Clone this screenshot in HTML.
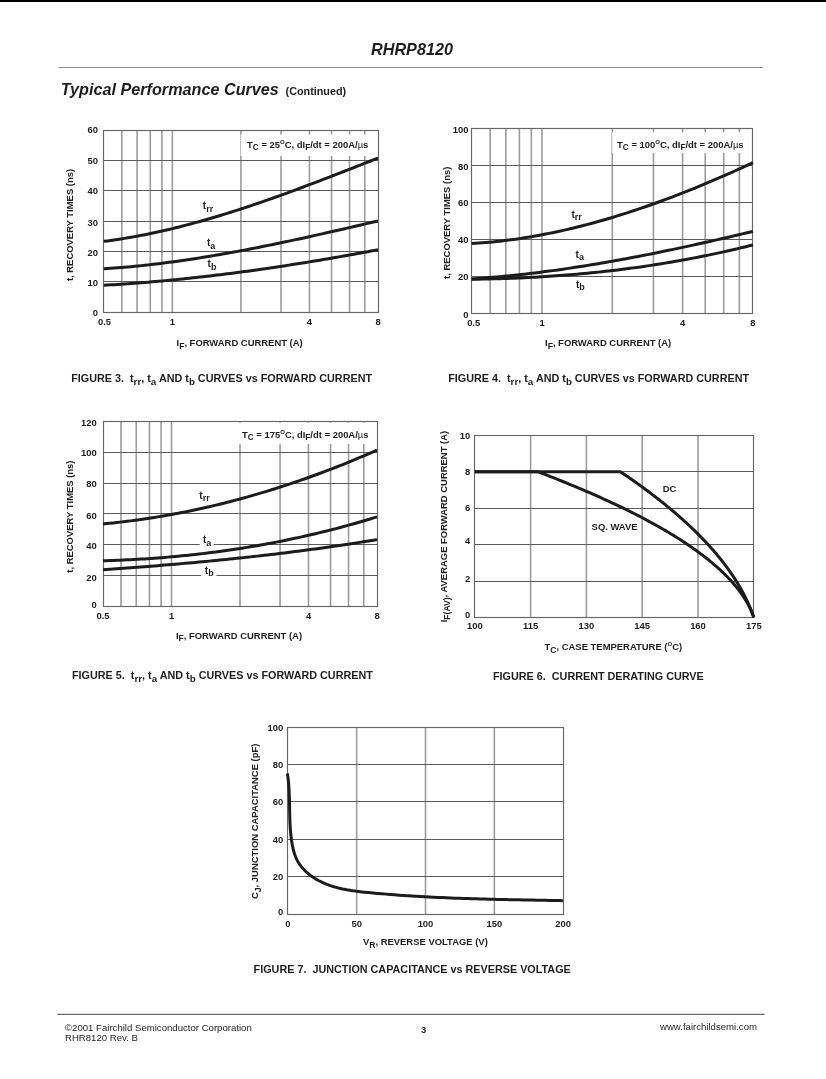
<!DOCTYPE html>
<html><head><meta charset="utf-8"><title>RHRP8120 - Typical Performance Curves</title>
<style>
html,body{margin:0;padding:0;background:#fff;}
body{width:826px;height:1079px;overflow:hidden;}
svg{display:block;will-change:transform;}
text{white-space:pre;font-family:"Liberation Sans",Arial,Helvetica,sans-serif;fill:#1e1e1e;}
</style></head>
<body>
<svg width="826" height="1079" viewBox="0 0 826 1079">
<rect width="826" height="1079" fill="#fff"/>
<rect x="0" y="0" width="826" height="2" fill="#000"/>
<text x="412.00" y="54.70" font-size="16.2" font-weight="bold" text-anchor="middle" font-style="italic">RHRP8120</text>
<line x1="58.50" y1="67.50" x2="763.00" y2="67.50" stroke="#8c8c8c" stroke-width="1.2"/>
<text x="60.80" y="94.90" font-size="16.2" font-weight="bold" text-anchor="start" font-style="italic">Typical Performance Curves</text>
<text x="285.60" y="94.90" font-size="10.8" font-weight="bold" text-anchor="start" >(Continued)</text>
<line x1="121.83" y1="130.20" x2="121.83" y2="312.30" stroke="#9c9c9c" stroke-width="1.6"/>
<line x1="137.08" y1="130.20" x2="137.08" y2="312.30" stroke="#9c9c9c" stroke-width="1.6"/>
<line x1="150.28" y1="130.20" x2="150.28" y2="312.30" stroke="#9c9c9c" stroke-width="1.6"/>
<line x1="161.93" y1="130.20" x2="161.93" y2="312.30" stroke="#9c9c9c" stroke-width="1.6"/>
<line x1="172.35" y1="130.20" x2="172.35" y2="312.30" stroke="#9c9c9c" stroke-width="1.6"/>
<line x1="240.90" y1="130.20" x2="240.90" y2="312.30" stroke="#9c9c9c" stroke-width="1.6"/>
<line x1="281.00" y1="130.20" x2="281.00" y2="312.30" stroke="#9c9c9c" stroke-width="1.6"/>
<line x1="309.45" y1="130.20" x2="309.45" y2="312.30" stroke="#9c9c9c" stroke-width="1.6"/>
<line x1="331.52" y1="130.20" x2="331.52" y2="312.30" stroke="#9c9c9c" stroke-width="1.6"/>
<line x1="349.55" y1="130.20" x2="349.55" y2="312.30" stroke="#9c9c9c" stroke-width="1.6"/>
<line x1="364.79" y1="130.20" x2="364.79" y2="312.30" stroke="#9c9c9c" stroke-width="1.6"/>
<line x1="103.80" y1="281.50" x2="378.00" y2="281.50" stroke="#5a5a5a" stroke-width="1.05"/>
<line x1="103.80" y1="251.50" x2="378.00" y2="251.50" stroke="#5a5a5a" stroke-width="1.05"/>
<line x1="103.80" y1="221.50" x2="378.00" y2="221.50" stroke="#5a5a5a" stroke-width="1.05"/>
<line x1="103.80" y1="190.50" x2="378.00" y2="190.50" stroke="#5a5a5a" stroke-width="1.05"/>
<line x1="103.80" y1="160.50" x2="378.00" y2="160.50" stroke="#5a5a5a" stroke-width="1.05"/>
<rect x="240.7" y="134.5" width="137.3" height="21.5" fill="#fff"/>
<rect x="103.5" y="130.5" width="275.0" height="182.0" fill="none" stroke="#666" stroke-width="1.15"/>
<path d="M103.80,241.33 L107.23,240.89 L110.65,240.43 L114.08,239.95 L117.51,239.45 L120.94,238.92 L124.36,238.38 L127.79,237.81 L131.22,237.22 L134.65,236.61 L138.07,235.98 L141.50,235.33 L144.93,234.66 L148.36,233.97 L151.78,233.26 L155.21,232.53 L158.64,231.79 L162.07,231.02 L165.50,230.24 L168.92,229.44 L172.35,228.62 L175.78,227.78 L179.20,226.93 L182.63,226.06 L186.06,225.17 L189.49,224.27 L192.91,223.35 L196.34,222.41 L199.77,221.46 L203.20,220.50 L206.62,219.52 L210.05,218.52 L213.48,217.52 L216.91,216.49 L220.34,215.46 L223.76,214.41 L227.19,213.35 L230.62,212.27 L234.05,211.18 L237.47,210.08 L240.90,208.97 L244.33,207.85 L247.75,206.71 L251.18,205.57 L254.61,204.41 L258.04,203.24 L261.47,202.07 L264.89,200.88 L268.32,199.68 L271.75,198.48 L275.18,197.26 L278.60,196.04 L282.03,194.81 L285.46,193.57 L288.88,192.32 L292.31,191.06 L295.74,189.80 L299.17,188.53 L302.60,187.25 L306.02,185.97 L309.45,184.68 L312.88,183.38 L316.31,182.08 L319.73,180.78 L323.16,179.47 L326.59,178.15 L330.01,176.83 L333.44,175.50 L336.87,174.18 L340.30,172.84 L343.72,171.51 L347.15,170.17 L350.58,168.83 L354.01,167.48 L357.44,166.14 L360.86,164.79 L364.29,163.44 L367.72,162.09 L371.15,160.74 L374.57,159.39 L378.00,158.03" stroke="#1c1c1c" stroke-width="3" fill="none" stroke-linejoin="round" stroke-linecap="butt"/>
<path d="M103.80,268.84 L107.23,268.61 L110.65,268.37 L114.08,268.11 L117.51,267.85 L120.94,267.57 L124.36,267.27 L127.79,266.97 L131.22,266.65 L134.65,266.31 L138.07,265.97 L141.50,265.62 L144.93,265.25 L148.36,264.87 L151.78,264.48 L155.21,264.07 L158.64,263.66 L162.07,263.24 L165.50,262.80 L168.92,262.35 L172.35,261.89 L175.78,261.43 L179.20,260.95 L182.63,260.46 L186.06,259.96 L189.49,259.45 L192.91,258.93 L196.34,258.40 L199.77,257.87 L203.20,257.32 L206.62,256.76 L210.05,256.20 L213.48,255.63 L216.91,255.04 L220.34,254.45 L223.76,253.85 L227.19,253.25 L230.62,252.63 L234.05,252.01 L237.47,251.38 L240.90,250.74 L244.33,250.10 L247.75,249.44 L251.18,248.79 L254.61,248.12 L258.04,247.45 L261.47,246.77 L264.89,246.08 L268.32,245.39 L271.75,244.69 L275.18,243.99 L278.60,243.28 L282.03,242.56 L285.46,241.84 L288.88,241.12 L292.31,240.39 L295.74,239.65 L299.17,238.91 L302.60,238.16 L306.02,237.41 L309.45,236.66 L312.88,235.90 L316.31,235.14 L319.73,234.37 L323.16,233.60 L326.59,232.83 L330.01,232.05 L333.44,231.28 L336.87,230.49 L340.30,229.71 L343.72,228.92 L347.15,228.13 L350.58,227.34 L354.01,226.54 L357.44,225.74 L360.86,224.94 L364.29,224.14 L367.72,223.34 L371.15,222.54 L374.57,221.73 L378.00,220.93" stroke="#1c1c1c" stroke-width="3" fill="none" stroke-linejoin="round" stroke-linecap="butt"/>
<path d="M103.80,285.25 L107.23,285.05 L110.65,284.85 L114.08,284.64 L117.51,284.42 L120.94,284.20 L124.36,283.97 L127.79,283.73 L131.22,283.48 L134.65,283.23 L138.07,282.97 L141.50,282.70 L144.93,282.42 L148.36,282.14 L151.78,281.85 L155.21,281.56 L158.64,281.25 L162.07,280.95 L165.50,280.63 L168.92,280.31 L172.35,279.98 L175.78,279.64 L179.20,279.30 L182.63,278.95 L186.06,278.59 L189.49,278.23 L192.91,277.86 L196.34,277.49 L199.77,277.11 L203.20,276.72 L206.62,276.33 L210.05,275.93 L213.48,275.52 L216.91,275.11 L220.34,274.69 L223.76,274.27 L227.19,273.84 L230.62,273.40 L234.05,272.96 L237.47,272.51 L240.90,272.06 L244.33,271.60 L247.75,271.14 L251.18,270.67 L254.61,270.19 L258.04,269.71 L261.47,269.22 L264.89,268.73 L268.32,268.23 L271.75,267.73 L275.18,267.22 L278.60,266.71 L282.03,266.19 L285.46,265.66 L288.88,265.14 L292.31,264.60 L295.74,264.06 L299.17,263.52 L302.60,262.97 L306.02,262.42 L309.45,261.86 L312.88,261.29 L316.31,260.72 L319.73,260.15 L323.16,259.57 L326.59,258.99 L330.01,258.40 L333.44,257.81 L336.87,257.22 L340.30,256.62 L343.72,256.01 L347.15,255.40 L350.58,254.79 L354.01,254.17 L357.44,253.55 L360.86,252.92 L364.29,252.29 L367.72,251.66 L371.15,251.02 L374.57,250.38 L378.00,249.73" stroke="#1c1c1c" stroke-width="3" fill="none" stroke-linejoin="round" stroke-linecap="butt"/>
<text x="98.10" y="132.60" font-size="9.45" font-weight="bold" text-anchor="end" >60</text>
<text x="98.10" y="163.50" font-size="9.45" font-weight="bold" text-anchor="end" >50</text>
<text x="98.10" y="194.10" font-size="9.45" font-weight="bold" text-anchor="end" >40</text>
<text x="98.10" y="225.70" font-size="9.45" font-weight="bold" text-anchor="end" >30</text>
<text x="98.10" y="255.90" font-size="9.45" font-weight="bold" text-anchor="end" >20</text>
<text x="98.10" y="285.80" font-size="9.45" font-weight="bold" text-anchor="end" >10</text>
<text x="98.10" y="315.70" font-size="9.45" font-weight="bold" text-anchor="end" >0</text>
<text x="104.50" y="324.60" font-size="9.45" font-weight="bold" text-anchor="middle" >0.5</text>
<text x="172.35" y="324.60" font-size="9.45" font-weight="bold" text-anchor="middle" >1</text>
<text x="309.45" y="324.60" font-size="9.45" font-weight="bold" text-anchor="middle" >4</text>
<text x="378.00" y="324.60" font-size="9.45" font-weight="bold" text-anchor="middle" >8</text>
<text x="247.1" y="147.8" font-size="9.45" font-weight="bold">T<tspan dy="2.2" font-size="8.2">C</tspan><tspan dy="-2.2"> = 25</tspan><tspan dy="-4" font-size="6">O</tspan><tspan dy="4">C, dI</tspan><tspan dy="2.2" font-size="8.2">F</tspan><tspan dy="-2.2">/dt = 200A/</tspan><tspan font-weight="normal">µ</tspan><tspan>s</tspan></text>
<text x="202.80" y="209.40" font-size="10" font-weight="bold">t<tspan dy="2.4" font-size="9">rr</tspan></text>
<text x="206.90" y="246.10" font-size="10" font-weight="bold">t<tspan dy="2.4" font-size="9">a</tspan></text>
<text x="207.60" y="267.20" font-size="10" font-weight="bold">t<tspan dy="2.4" font-size="9">b</tspan></text>
<line x1="490.19" y1="128.40" x2="490.19" y2="313.40" stroke="#9c9c9c" stroke-width="1.6"/>
<line x1="505.83" y1="128.40" x2="505.83" y2="313.40" stroke="#9c9c9c" stroke-width="1.6"/>
<line x1="519.37" y1="128.40" x2="519.37" y2="313.40" stroke="#9c9c9c" stroke-width="1.6"/>
<line x1="531.31" y1="128.40" x2="531.31" y2="313.40" stroke="#9c9c9c" stroke-width="1.6"/>
<line x1="542.00" y1="128.40" x2="542.00" y2="313.40" stroke="#9c9c9c" stroke-width="1.6"/>
<line x1="612.30" y1="128.40" x2="612.30" y2="313.40" stroke="#9c9c9c" stroke-width="1.6"/>
<line x1="653.42" y1="128.40" x2="653.42" y2="313.40" stroke="#9c9c9c" stroke-width="1.6"/>
<line x1="682.60" y1="128.40" x2="682.60" y2="313.40" stroke="#9c9c9c" stroke-width="1.6"/>
<line x1="705.23" y1="128.40" x2="705.23" y2="313.40" stroke="#9c9c9c" stroke-width="1.6"/>
<line x1="723.72" y1="128.40" x2="723.72" y2="313.40" stroke="#9c9c9c" stroke-width="1.6"/>
<line x1="739.36" y1="128.40" x2="739.36" y2="313.40" stroke="#9c9c9c" stroke-width="1.6"/>
<line x1="471.70" y1="276.50" x2="752.90" y2="276.50" stroke="#5a5a5a" stroke-width="1.05"/>
<line x1="471.70" y1="239.50" x2="752.90" y2="239.50" stroke="#5a5a5a" stroke-width="1.05"/>
<line x1="471.70" y1="202.50" x2="752.90" y2="202.50" stroke="#5a5a5a" stroke-width="1.05"/>
<line x1="471.70" y1="165.50" x2="752.90" y2="165.50" stroke="#5a5a5a" stroke-width="1.05"/>
<rect x="612.3" y="132.3" width="140.60000000000002" height="20.69999999999999" fill="#fff"/>
<rect x="471.5" y="128.5" width="281.0" height="185.0" fill="none" stroke="#666" stroke-width="1.15"/>
<path d="M471.70,243.58 L475.21,243.36 L478.73,243.12 L482.25,242.85 L485.76,242.56 L489.27,242.25 L492.79,241.91 L496.31,241.55 L499.82,241.16 L503.33,240.75 L506.85,240.32 L510.37,239.86 L513.88,239.39 L517.39,238.89 L520.91,238.36 L524.42,237.82 L527.94,237.25 L531.46,236.66 L534.97,236.05 L538.49,235.42 L542.00,234.76 L545.51,234.09 L549.03,233.39 L552.54,232.67 L556.06,231.94 L559.58,231.18 L563.09,230.40 L566.61,229.60 L570.12,228.78 L573.63,227.94 L577.15,227.08 L580.66,226.20 L584.18,225.30 L587.69,224.39 L591.21,223.45 L594.73,222.49 L598.24,221.52 L601.75,220.53 L605.27,219.52 L608.78,218.49 L612.30,217.44 L615.82,216.37 L619.33,215.29 L622.85,214.19 L626.36,213.07 L629.88,211.94 L633.39,210.79 L636.90,209.62 L640.42,208.43 L643.93,207.23 L647.45,206.01 L650.97,204.78 L654.48,203.53 L658.00,202.26 L661.51,200.98 L665.02,199.68 L668.54,198.37 L672.05,197.04 L675.57,195.70 L679.09,194.34 L682.60,192.97 L686.12,191.59 L689.63,190.18 L693.14,188.77 L696.66,187.34 L700.17,185.90 L703.69,184.44 L707.20,182.97 L710.72,181.49 L714.24,179.99 L717.75,178.48 L721.26,176.96 L724.78,175.43 L728.30,173.88 L731.81,172.32 L735.33,170.75 L738.84,169.17 L742.36,167.57 L745.87,165.97 L749.38,164.35 L752.90,162.72" stroke="#1c1c1c" stroke-width="3" fill="none" stroke-linejoin="round" stroke-linecap="butt"/>
<path d="M471.70,278.93 L475.21,278.69 L478.73,278.44 L482.25,278.18 L485.76,277.90 L489.27,277.62 L492.79,277.32 L496.31,277.01 L499.82,276.69 L503.33,276.36 L506.85,276.02 L510.37,275.67 L513.88,275.31 L517.39,274.93 L520.91,274.55 L524.42,274.15 L527.94,273.75 L531.46,273.33 L534.97,272.91 L538.49,272.47 L542.00,272.03 L545.51,271.57 L549.03,271.11 L552.54,270.63 L556.06,270.15 L559.58,269.65 L563.09,269.15 L566.61,268.64 L570.12,268.12 L573.63,267.59 L577.15,267.05 L580.66,266.51 L584.18,265.95 L587.69,265.39 L591.21,264.81 L594.73,264.23 L598.24,263.65 L601.75,263.05 L605.27,262.45 L608.78,261.83 L612.30,261.21 L615.82,260.59 L619.33,259.95 L622.85,259.31 L626.36,258.66 L629.88,258.00 L633.39,257.34 L636.90,256.67 L640.42,255.99 L643.93,255.31 L647.45,254.62 L650.97,253.92 L654.48,253.22 L658.00,252.51 L661.51,251.79 L665.02,251.07 L668.54,250.34 L672.05,249.61 L675.57,248.87 L679.09,248.13 L682.60,247.38 L686.12,246.62 L689.63,245.86 L693.14,245.10 L696.66,244.32 L700.17,243.55 L703.69,242.77 L707.20,241.98 L710.72,241.19 L714.24,240.40 L717.75,239.60 L721.26,238.80 L724.78,237.99 L728.30,237.18 L731.81,236.37 L735.33,235.55 L738.84,234.72 L742.36,233.90 L745.87,233.07 L749.38,232.24 L752.90,231.40" stroke="#1c1c1c" stroke-width="3" fill="none" stroke-linejoin="round" stroke-linecap="butt"/>
<path d="M471.70,279.21 L475.21,279.17 L478.73,279.13 L482.25,279.07 L485.76,279.00 L489.27,278.93 L492.79,278.85 L496.31,278.76 L499.82,278.66 L503.33,278.55 L506.85,278.43 L510.37,278.31 L513.88,278.17 L517.39,278.03 L520.91,277.88 L524.42,277.72 L527.94,277.55 L531.46,277.37 L534.97,277.18 L538.49,276.98 L542.00,276.77 L545.51,276.55 L549.03,276.33 L552.54,276.09 L556.06,275.84 L559.58,275.59 L563.09,275.32 L566.61,275.05 L570.12,274.76 L573.63,274.47 L577.15,274.16 L580.66,273.85 L584.18,273.52 L587.69,273.19 L591.21,272.84 L594.73,272.49 L598.24,272.12 L601.75,271.75 L605.27,271.36 L608.78,270.96 L612.30,270.55 L615.82,270.14 L619.33,269.71 L622.85,269.27 L626.36,268.82 L629.88,268.36 L633.39,267.88 L636.90,267.40 L640.42,266.91 L643.93,266.40 L647.45,265.88 L650.97,265.36 L654.48,264.82 L658.00,264.27 L661.51,263.71 L665.02,263.13 L668.54,262.55 L672.05,261.95 L675.57,261.35 L679.09,260.73 L682.60,260.10 L686.12,259.45 L689.63,258.80 L693.14,258.13 L696.66,257.45 L700.17,256.76 L703.69,256.06 L707.20,255.35 L710.72,254.62 L714.24,253.88 L717.75,253.13 L721.26,252.37 L724.78,251.59 L728.30,250.80 L731.81,250.00 L735.33,249.19 L738.84,248.36 L742.36,247.52 L745.87,246.67 L749.38,245.80 L752.90,244.93" stroke="#1c1c1c" stroke-width="3" fill="none" stroke-linejoin="round" stroke-linecap="butt"/>
<text x="468.50" y="132.70" font-size="9.45" font-weight="bold" text-anchor="end" >100</text>
<text x="468.50" y="169.70" font-size="9.45" font-weight="bold" text-anchor="end" >80</text>
<text x="468.50" y="205.80" font-size="9.45" font-weight="bold" text-anchor="end" >60</text>
<text x="468.50" y="242.60" font-size="9.45" font-weight="bold" text-anchor="end" >40</text>
<text x="468.50" y="280.10" font-size="9.45" font-weight="bold" text-anchor="end" >20</text>
<text x="468.50" y="317.60" font-size="9.45" font-weight="bold" text-anchor="end" >0</text>
<text x="473.70" y="325.80" font-size="9.45" font-weight="bold" text-anchor="middle" >0.5</text>
<text x="542.00" y="325.80" font-size="9.45" font-weight="bold" text-anchor="middle" >1</text>
<text x="682.60" y="325.80" font-size="9.45" font-weight="bold" text-anchor="middle" >4</text>
<text x="752.90" y="325.80" font-size="9.45" font-weight="bold" text-anchor="middle" >8</text>
<text x="617.1" y="147.8" font-size="9.45" font-weight="bold">T<tspan dy="2.2" font-size="8.2">C</tspan><tspan dy="-2.2"> = 100</tspan><tspan dy="-4" font-size="6">O</tspan><tspan dy="4">C, dI</tspan><tspan dy="2.2" font-size="8.2">F</tspan><tspan dy="-2.2">/dt = 200A/</tspan><tspan font-weight="normal">µ</tspan><tspan>s</tspan></text>
<text x="571.50" y="217.90" font-size="10" font-weight="bold">t<tspan dy="2.4" font-size="9">rr</tspan></text>
<text x="575.60" y="257.50" font-size="10" font-weight="bold">t<tspan dy="2.4" font-size="9">a</tspan></text>
<text x="576.00" y="288.00" font-size="10" font-weight="bold">t<tspan dy="2.4" font-size="9">b</tspan></text>
<line x1="121.02" y1="421.30" x2="121.02" y2="606.50" stroke="#9c9c9c" stroke-width="1.6"/>
<line x1="136.25" y1="421.30" x2="136.25" y2="606.50" stroke="#9c9c9c" stroke-width="1.6"/>
<line x1="149.45" y1="421.30" x2="149.45" y2="606.50" stroke="#9c9c9c" stroke-width="1.6"/>
<line x1="161.09" y1="421.30" x2="161.09" y2="606.50" stroke="#9c9c9c" stroke-width="1.6"/>
<line x1="171.50" y1="421.30" x2="171.50" y2="606.50" stroke="#9c9c9c" stroke-width="1.6"/>
<line x1="240.00" y1="421.30" x2="240.00" y2="606.50" stroke="#9c9c9c" stroke-width="1.6"/>
<line x1="280.07" y1="421.30" x2="280.07" y2="606.50" stroke="#9c9c9c" stroke-width="1.6"/>
<line x1="308.50" y1="421.30" x2="308.50" y2="606.50" stroke="#9c9c9c" stroke-width="1.6"/>
<line x1="330.55" y1="421.30" x2="330.55" y2="606.50" stroke="#9c9c9c" stroke-width="1.6"/>
<line x1="348.57" y1="421.30" x2="348.57" y2="606.50" stroke="#9c9c9c" stroke-width="1.6"/>
<line x1="363.80" y1="421.30" x2="363.80" y2="606.50" stroke="#9c9c9c" stroke-width="1.6"/>
<line x1="103.00" y1="575.50" x2="377.00" y2="575.50" stroke="#5a5a5a" stroke-width="1.05"/>
<line x1="103.00" y1="544.50" x2="377.00" y2="544.50" stroke="#5a5a5a" stroke-width="1.05"/>
<line x1="103.00" y1="513.50" x2="377.00" y2="513.50" stroke="#5a5a5a" stroke-width="1.05"/>
<line x1="103.00" y1="483.50" x2="377.00" y2="483.50" stroke="#5a5a5a" stroke-width="1.05"/>
<line x1="103.00" y1="452.50" x2="377.00" y2="452.50" stroke="#5a5a5a" stroke-width="1.05"/>
<rect x="236" y="422.7" width="141" height="21.30000000000001" fill="#fff"/>
<rect x="103.5" y="421.5" width="274.0" height="185.0" fill="none" stroke="#666" stroke-width="1.15"/>
<path d="M103.00,523.92 L106.43,523.59 L109.85,523.25 L113.28,522.89 L116.70,522.52 L120.12,522.13 L123.55,521.73 L126.98,521.31 L130.40,520.88 L133.82,520.43 L137.25,519.96 L140.68,519.48 L144.10,518.99 L147.53,518.48 L150.95,517.95 L154.38,517.41 L157.80,516.86 L161.23,516.29 L164.65,515.70 L168.07,515.10 L171.50,514.48 L174.93,513.85 L178.35,513.21 L181.78,512.54 L185.20,511.87 L188.62,511.17 L192.05,510.47 L195.48,509.75 L198.90,509.01 L202.33,508.26 L205.75,507.49 L209.18,506.71 L212.60,505.91 L216.03,505.09 L219.45,504.27 L222.88,503.42 L226.30,502.57 L229.73,501.69 L233.15,500.81 L236.58,499.90 L240.00,498.98 L243.43,498.05 L246.85,497.10 L250.28,496.14 L253.70,495.16 L257.12,494.17 L260.55,493.16 L263.98,492.14 L267.40,491.10 L270.83,490.05 L274.25,488.98 L277.68,487.90 L281.10,486.80 L284.53,485.69 L287.95,484.57 L291.38,483.42 L294.80,482.27 L298.23,481.10 L301.65,479.91 L305.08,478.71 L308.50,477.49 L311.93,476.26 L315.35,475.02 L318.78,473.76 L322.20,472.48 L325.62,471.19 L329.05,469.89 L332.48,468.57 L335.90,467.24 L339.33,465.89 L342.75,464.52 L346.18,463.15 L349.60,461.75 L353.03,460.35 L356.45,458.92 L359.88,457.49 L363.30,456.04 L366.73,454.57 L370.15,453.09 L373.57,451.59 L377.00,450.08" stroke="#1c1c1c" stroke-width="3" fill="none" stroke-linejoin="round" stroke-linecap="butt"/>
<path d="M103.00,560.79 L106.43,560.68 L109.85,560.57 L113.28,560.45 L116.70,560.32 L120.12,560.18 L123.55,560.03 L126.98,559.87 L130.40,559.70 L133.82,559.51 L137.25,559.32 L140.68,559.12 L144.10,558.91 L147.53,558.68 L150.95,558.45 L154.38,558.20 L157.80,557.95 L161.23,557.68 L164.65,557.40 L168.07,557.12 L171.50,556.82 L174.93,556.51 L178.35,556.19 L181.78,555.85 L185.20,555.51 L188.62,555.16 L192.05,554.79 L195.48,554.42 L198.90,554.03 L202.33,553.63 L205.75,553.22 L209.18,552.80 L212.60,552.36 L216.03,551.92 L219.45,551.46 L222.88,550.99 L226.30,550.51 L229.73,550.02 L233.15,549.51 L236.58,549.00 L240.00,548.47 L243.43,547.93 L246.85,547.38 L250.28,546.81 L253.70,546.24 L257.12,545.65 L260.55,545.05 L263.98,544.43 L267.40,543.81 L270.83,543.17 L274.25,542.52 L277.68,541.85 L281.10,541.18 L284.53,540.49 L287.95,539.79 L291.38,539.07 L294.80,538.34 L298.23,537.60 L301.65,536.85 L305.08,536.08 L308.50,535.30 L311.93,534.51 L315.35,533.70 L318.78,532.89 L322.20,532.05 L325.62,531.21 L329.05,530.35 L332.48,529.47 L335.90,528.59 L339.33,527.69 L342.75,526.77 L346.18,525.85 L349.60,524.91 L353.03,523.95 L356.45,522.98 L359.88,522.00 L363.30,521.00 L366.73,519.99 L370.15,518.97 L373.57,517.93 L377.00,516.88" stroke="#1c1c1c" stroke-width="3" fill="none" stroke-linejoin="round" stroke-linecap="butt"/>
<path d="M103.00,569.72 L106.43,569.48 L109.85,569.25 L113.28,569.01 L116.70,568.76 L120.12,568.52 L123.55,568.27 L126.98,568.02 L130.40,567.77 L133.82,567.52 L137.25,567.26 L140.68,567.00 L144.10,566.74 L147.53,566.47 L150.95,566.20 L154.38,565.93 L157.80,565.65 L161.23,565.37 L164.65,565.09 L168.07,564.80 L171.50,564.52 L174.93,564.22 L178.35,563.93 L181.78,563.63 L185.20,563.33 L188.62,563.02 L192.05,562.71 L195.48,562.40 L198.90,562.09 L202.33,561.77 L205.75,561.44 L209.18,561.12 L212.60,560.79 L216.03,560.45 L219.45,560.11 L222.88,559.77 L226.30,559.42 L229.73,559.07 L233.15,558.72 L236.58,558.36 L240.00,558.00 L243.43,557.63 L246.85,557.26 L250.28,556.88 L253.70,556.50 L257.12,556.12 L260.55,555.73 L263.98,555.34 L267.40,554.94 L270.83,554.54 L274.25,554.14 L277.68,553.73 L281.10,553.31 L284.53,552.89 L287.95,552.47 L291.38,552.04 L294.80,551.60 L298.23,551.16 L301.65,550.72 L305.08,550.27 L308.50,549.82 L311.93,549.36 L315.35,548.89 L318.78,548.43 L322.20,547.95 L325.62,547.47 L329.05,546.99 L332.48,546.50 L335.90,546.00 L339.33,545.50 L342.75,545.00 L346.18,544.49 L349.60,543.97 L353.03,543.45 L356.45,542.92 L359.88,542.39 L363.30,541.85 L366.73,541.30 L370.15,540.75 L373.57,540.20 L377.00,539.63" stroke="#1c1c1c" stroke-width="3" fill="none" stroke-linejoin="round" stroke-linecap="butt"/>
<text x="96.70" y="425.70" font-size="9.45" font-weight="bold" text-anchor="end" >120</text>
<text x="96.70" y="455.90" font-size="9.45" font-weight="bold" text-anchor="end" >100</text>
<text x="96.70" y="487.00" font-size="9.45" font-weight="bold" text-anchor="end" >80</text>
<text x="96.70" y="518.60" font-size="9.45" font-weight="bold" text-anchor="end" >60</text>
<text x="96.70" y="549.20" font-size="9.45" font-weight="bold" text-anchor="end" >40</text>
<text x="96.70" y="580.80" font-size="9.45" font-weight="bold" text-anchor="end" >20</text>
<text x="96.70" y="607.90" font-size="9.45" font-weight="bold" text-anchor="end" >0</text>
<text x="103.00" y="619.10" font-size="9.45" font-weight="bold" text-anchor="middle" >0.5</text>
<text x="171.50" y="619.10" font-size="9.45" font-weight="bold" text-anchor="middle" >1</text>
<text x="308.50" y="619.10" font-size="9.45" font-weight="bold" text-anchor="middle" >4</text>
<text x="377.00" y="619.10" font-size="9.45" font-weight="bold" text-anchor="middle" >8</text>
<text x="242" y="437.8" font-size="9.45" font-weight="bold">T<tspan dy="2.2" font-size="8.2">C</tspan><tspan dy="-2.2"> = 175</tspan><tspan dy="-4" font-size="6">O</tspan><tspan dy="4">C, dI</tspan><tspan dy="2.2" font-size="8.2">F</tspan><tspan dy="-2.2">/dt = 200A/</tspan><tspan font-weight="normal">µ</tspan><tspan>s</tspan></text>
<rect x="199.7" y="542" width="13.9" height="6" fill="#fff"/>
<rect x="201.1" y="573" width="15.3" height="6" fill="#fff"/>
<text x="199.30" y="498.90" font-size="10" font-weight="bold">t<tspan dy="2.4" font-size="9">rr</tspan></text>
<text x="203.00" y="543.20" font-size="10" font-weight="bold">t<tspan dy="2.4" font-size="9">a</tspan></text>
<text x="204.80" y="573.50" font-size="10" font-weight="bold">t<tspan dy="2.4" font-size="9">b</tspan></text>
<line x1="530.60" y1="435.20" x2="530.60" y2="617.50" stroke="#9c9c9c" stroke-width="1.6"/>
<line x1="586.40" y1="435.20" x2="586.40" y2="617.50" stroke="#9c9c9c" stroke-width="1.6"/>
<line x1="642.20" y1="435.20" x2="642.20" y2="617.50" stroke="#9c9c9c" stroke-width="1.6"/>
<line x1="698.00" y1="435.20" x2="698.00" y2="617.50" stroke="#9c9c9c" stroke-width="1.6"/>
<line x1="474.80" y1="581.50" x2="753.80" y2="581.50" stroke="#5a5a5a" stroke-width="1.05"/>
<line x1="474.80" y1="544.50" x2="753.80" y2="544.50" stroke="#5a5a5a" stroke-width="1.05"/>
<line x1="474.80" y1="508.50" x2="753.80" y2="508.50" stroke="#5a5a5a" stroke-width="1.05"/>
<line x1="474.80" y1="471.50" x2="753.80" y2="471.50" stroke="#5a5a5a" stroke-width="1.05"/>
<rect x="474.5" y="435.5" width="279.0" height="182.0" fill="none" stroke="#666" stroke-width="1.15"/>
<path d="M474.80,471.66 L620.20,471.66 L622.64,473.30 L625.06,474.94 L627.45,476.58 L629.82,478.21 L632.18,479.85 L634.51,481.49 L636.82,483.13 L639.11,484.77 L641.37,486.41 L643.62,488.05 L645.85,489.69 L648.05,491.32 L650.23,492.96 L652.39,494.60 L654.53,496.24 L656.65,497.88 L658.75,499.52 L660.82,501.16 L662.88,502.79 L664.91,504.43 L666.92,506.07 L668.91,507.71 L670.88,509.35 L672.83,510.99 L674.76,512.63 L676.66,514.26 L678.55,515.90 L680.41,517.54 L682.25,519.18 L684.07,520.82 L685.87,522.46 L687.65,524.10 L689.41,525.74 L691.14,527.37 L692.86,529.01 L694.55,530.65 L696.22,532.29 L697.87,533.93 L699.50,535.57 L701.11,537.21 L702.69,538.84 L704.26,540.48 L705.80,542.12 L707.32,543.76 L708.82,545.40 L710.30,547.04 L711.76,548.68 L713.20,550.32 L714.62,551.95 L716.01,553.59 L717.38,555.23 L718.74,556.87 L720.07,558.51 L721.38,560.15 L722.66,561.79 L723.93,563.42 L725.18,565.06 L726.40,566.70 L727.61,568.34 L728.79,569.98 L729.95,571.62 L731.09,573.26 L732.20,574.90 L733.30,576.53 L734.38,578.17 L735.43,579.81 L736.46,581.45 L737.48,583.09 L738.47,584.73 L739.43,586.37 L740.38,588.00 L741.31,589.64 L742.21,591.28 L743.10,592.92 L743.96,594.56 L744.80,596.20 L745.62,597.84 L746.42,599.47 L747.20,601.11 L747.95,602.75 L748.69,604.39 L749.40,606.03 L750.09,607.67 L750.76,609.31 L751.41,610.95 L752.04,612.58 L752.65,614.22 L753.24,615.86 L753.80,617.50" stroke="#1c1c1c" stroke-width="3" fill="none" stroke-linejoin="round" stroke-linecap="butt"/>
<path d="M474.80,471.66 L537.72,471.66 L542.01,473.30 L546.25,474.94 L550.46,476.58 L554.62,478.21 L558.75,479.85 L562.83,481.49 L566.86,483.13 L570.86,484.77 L574.81,486.41 L578.72,488.05 L582.59,489.69 L586.41,491.32 L590.19,492.96 L593.93,494.60 L597.63,496.24 L601.29,497.88 L604.90,499.52 L608.47,501.16 L612.00,502.79 L615.49,504.43 L618.93,506.07 L622.33,507.71 L625.69,509.35 L629.01,510.99 L632.28,512.63 L635.52,514.26 L638.71,515.90 L641.85,517.54 L644.96,519.18 L648.02,520.82 L651.04,522.46 L654.02,524.10 L656.96,525.74 L659.85,527.37 L662.70,529.01 L665.51,530.65 L668.28,532.29 L671.00,533.93 L673.68,535.57 L676.32,537.21 L678.92,538.84 L681.48,540.48 L683.99,542.12 L686.46,543.76 L688.89,545.40 L691.27,547.04 L693.62,548.68 L695.92,550.32 L698.17,551.95 L700.39,553.59 L702.56,555.23 L704.70,556.87 L706.79,558.51 L708.83,560.15 L710.84,561.79 L712.80,563.42 L714.72,565.06 L716.60,566.70 L718.43,568.34 L720.22,569.98 L721.98,571.62 L723.68,573.26 L725.35,574.90 L726.97,576.53 L728.55,578.17 L730.09,579.81 L731.59,581.45 L733.04,583.09 L734.45,584.73 L735.82,586.37 L737.15,588.00 L738.44,589.64 L739.68,591.28 L740.88,592.92 L742.04,594.56 L743.15,596.20 L744.23,597.84 L745.26,599.47 L746.24,601.11 L747.19,602.75 L748.09,604.39 L748.96,606.03 L749.77,607.67 L750.55,609.31 L751.29,610.95 L751.98,612.58 L752.63,614.22 L753.23,615.86 L753.80,617.50" stroke="#1c1c1c" stroke-width="3" fill="none" stroke-linejoin="round" stroke-linecap="butt"/>
<text x="470.20" y="438.90" font-size="9.45" font-weight="bold" text-anchor="end" >10</text>
<text x="470.20" y="474.70" font-size="9.45" font-weight="bold" text-anchor="end" >8</text>
<text x="470.20" y="510.80" font-size="9.45" font-weight="bold" text-anchor="end" >6</text>
<text x="470.20" y="544.20" font-size="9.45" font-weight="bold" text-anchor="end" >4</text>
<text x="470.20" y="581.80" font-size="9.45" font-weight="bold" text-anchor="end" >2</text>
<text x="470.20" y="618.40" font-size="9.45" font-weight="bold" text-anchor="end" >0</text>
<text x="474.80" y="628.70" font-size="9.45" font-weight="bold" text-anchor="middle" >100</text>
<text x="530.60" y="628.70" font-size="9.45" font-weight="bold" text-anchor="middle" >115</text>
<text x="586.40" y="628.70" font-size="9.45" font-weight="bold" text-anchor="middle" >130</text>
<text x="642.20" y="628.70" font-size="9.45" font-weight="bold" text-anchor="middle" >145</text>
<text x="698.00" y="628.70" font-size="9.45" font-weight="bold" text-anchor="middle" >160</text>
<text x="753.80" y="628.70" font-size="9.45" font-weight="bold" text-anchor="middle" >175</text>
<text x="662.80" y="492.10" font-size="9.45" font-weight="bold" text-anchor="start" >DC</text>
<text x="591.60" y="529.60" font-size="9.45" font-weight="bold" text-anchor="start" >SQ. WAVE</text>
<line x1="356.65" y1="727.20" x2="356.65" y2="914.10" stroke="#9c9c9c" stroke-width="1.6"/>
<line x1="425.50" y1="727.20" x2="425.50" y2="914.10" stroke="#9c9c9c" stroke-width="1.6"/>
<line x1="494.35" y1="727.20" x2="494.35" y2="914.10" stroke="#9c9c9c" stroke-width="1.6"/>
<line x1="287.80" y1="876.50" x2="563.20" y2="876.50" stroke="#5a5a5a" stroke-width="1.05"/>
<line x1="287.80" y1="839.50" x2="563.20" y2="839.50" stroke="#5a5a5a" stroke-width="1.05"/>
<line x1="287.80" y1="801.50" x2="563.20" y2="801.50" stroke="#5a5a5a" stroke-width="1.05"/>
<line x1="287.80" y1="764.50" x2="563.20" y2="764.50" stroke="#5a5a5a" stroke-width="1.05"/>
<rect x="287.5" y="727.5" width="276.0" height="187.0" fill="none" stroke="#666" stroke-width="1.15"/>
<path d="M287.41,773.45 L287.60,774.65 L287.77,775.85 L287.93,777.05 L288.08,778.26 L288.22,779.47 L288.35,780.67 L288.47,781.88 L288.58,783.10 L288.69,784.31 L288.78,785.52 L288.87,786.74 L288.95,787.95 L289.02,789.17 L289.09,790.39 L289.15,791.61 L289.20,792.83 L289.25,794.06 L289.30,795.28 L289.34,796.50 L289.38,797.73 L289.41,798.96 L289.44,800.18 L289.47,801.41 L289.49,802.64 L289.52,803.87 L289.54,805.10 L289.56,806.34 L289.59,807.57 L289.61,808.80 L289.63,810.03 L289.66,811.27 L289.68,812.50 L289.71,813.74 L289.74,814.98 L289.77,816.21 L289.80,817.45 L289.84,818.69 L289.88,819.93 L289.93,821.16 L289.98,822.40 L290.04,823.64 L290.10,824.88 L290.17,826.12 L290.24,827.36 L290.33,828.60 L290.42,829.84 L290.51,831.08 L290.62,832.32 L290.74,833.56 L290.86,834.80 L290.99,836.04 L291.14,837.28 L291.29,838.52 L291.45,839.76 L291.63,841.00 L291.82,842.24 L292.02,843.47 L292.24,844.71 L292.48,845.93 L292.73,847.15 L293.00,848.37 L293.29,849.57 L293.60,850.77 L293.94,851.95 L294.30,853.13 L294.68,854.29 L295.09,855.44 L295.53,856.57 L295.99,857.69 L296.49,858.78 L297.01,859.86 L297.57,860.93 L298.16,861.97 L298.79,862.99 L299.44,863.99 L300.12,864.97 L300.83,865.93 L301.56,866.87 L302.33,867.80 L303.12,868.70 L303.93,869.58 L304.77,870.44 L305.62,871.29 L306.50,872.11 L307.41,872.91 L308.33,873.70 L309.27,874.46 L310.22,875.21 L311.20,875.93 L314.75,878.34 L318.46,880.50 L322.29,882.42 L326.21,884.11 L330.21,885.59 L334.29,886.88 L338.44,888.00 L342.64,888.97 L346.89,889.80 L351.19,890.52 L355.51,891.13 L359.86,891.67 L364.22,892.15 L368.58,892.58 L372.95,893.00 L377.30,893.39 L381.65,893.77 L385.99,894.13 L390.33,894.48 L394.66,894.81 L398.98,895.13 L403.30,895.44 L407.62,895.73 L411.93,896.00 L416.23,896.27 L420.54,896.52 L424.84,896.76 L429.14,896.99 L433.43,897.20 L437.73,897.41 L442.02,897.61 L446.31,897.79 L450.60,897.97 L454.89,898.14 L459.17,898.30 L463.46,898.45 L467.75,898.59 L472.04,898.73 L476.33,898.86 L480.62,898.98 L484.91,899.10 L489.21,899.21 L493.50,899.32 L497.80,899.42 L502.11,899.52 L506.41,899.61 L510.72,899.70 L515.04,899.79 L519.35,899.87 L523.68,899.96 L528.00,900.04 L532.34,900.12 L536.67,900.19 L541.02,900.27 L545.37,900.35 L549.73,900.43 L554.09,900.51 L558.47,900.59 L562.85,900.67" stroke="#1c1c1c" stroke-width="3" fill="none" stroke-linejoin="round" stroke-linecap="butt"/>
<text x="283.20" y="730.70" font-size="9.45" font-weight="bold" text-anchor="end" >100</text>
<text x="283.20" y="767.70" font-size="9.45" font-weight="bold" text-anchor="end" >80</text>
<text x="283.20" y="804.60" font-size="9.45" font-weight="bold" text-anchor="end" >60</text>
<text x="283.20" y="842.90" font-size="9.45" font-weight="bold" text-anchor="end" >40</text>
<text x="283.20" y="879.70" font-size="9.45" font-weight="bold" text-anchor="end" >20</text>
<text x="283.20" y="915.40" font-size="9.45" font-weight="bold" text-anchor="end" >0</text>
<text x="287.80" y="926.60" font-size="9.45" font-weight="bold" text-anchor="middle" >0</text>
<text x="356.65" y="926.60" font-size="9.45" font-weight="bold" text-anchor="middle" >50</text>
<text x="425.50" y="926.60" font-size="9.45" font-weight="bold" text-anchor="middle" >100</text>
<text x="494.35" y="926.60" font-size="9.45" font-weight="bold" text-anchor="middle" >150</text>
<text x="563.20" y="926.60" font-size="9.45" font-weight="bold" text-anchor="middle" >200</text>
<text transform="translate(73.0,225.0) rotate(-90)" font-size="9.45" font-weight="bold" text-anchor="middle">t, RECOVERY TIMES (ns)</text>
<text transform="translate(450.0,222.8) rotate(-90)" font-size="9.45" font-weight="bold" text-anchor="middle">t, RECOVERY TIMES (ns)</text>
<text transform="translate(72.8,516.6) rotate(-90)" font-size="9.45" font-weight="bold" text-anchor="middle">t, RECOVERY TIMES (ns)</text>
<text transform="translate(447.0,526.6) rotate(-90)" font-size="9.45" font-weight="bold" text-anchor="middle">I<tspan dy="2.6" font-size="8.6">F(AV)</tspan><tspan dy="-2.6">, AVERAGE FORWARD CURRENT (A)</tspan></text>
<text transform="translate(258.0,821.3) rotate(-90)" font-size="9.45" font-weight="bold" text-anchor="middle">C<tspan dy="2.6" font-size="8.6">J</tspan><tspan dy="-2.6">, JUNCTION CAPACITANCE (pF)</tspan></text>
<text x="176.5" y="346" font-size="9.45" font-weight="bold">I<tspan dy="2.6" font-size="8.6">F</tspan><tspan dy="-2.6">, FORWARD CURRENT (A)</tspan></text>
<text x="545" y="346.2" font-size="9.45" font-weight="bold">I<tspan dy="2.6" font-size="8.6">F</tspan><tspan dy="-2.6">, FORWARD CURRENT (A)</tspan></text>
<text x="175.9" y="638.8" font-size="9.45" font-weight="bold">I<tspan dy="2.6" font-size="8.6">F</tspan><tspan dy="-2.6">, FORWARD CURRENT (A)</tspan></text>
<text x="544.5" y="649.9" font-size="9.45" font-weight="bold">T<tspan dy="2.6" font-size="8.6">C</tspan><tspan dy="-2.6">, CASE TEMPERATURE (</tspan><tspan dy="-4" font-size="6">O</tspan><tspan dy="4">C)</tspan></text>
<text x="362.9" y="945.3" font-size="9.45" font-weight="bold">V<tspan dy="2.6" font-size="8.6">R</tspan><tspan dy="-2.6">, REVERSE VOLTAGE (V)</tspan></text>
<text x="71.2" y="381.6" font-size="10.8" font-weight="bold">FIGURE 3.  t<tspan dy="3" font-size="9.8">rr</tspan><tspan dy="-3">, t</tspan><tspan dy="3" font-size="9.8">a</tspan><tspan dy="-3"> AND t</tspan><tspan dy="3" font-size="9.8">b</tspan><tspan dy="-3"> CURVES vs FORWARD CURRENT</tspan></text>
<text x="448.2" y="382" font-size="10.8" font-weight="bold">FIGURE 4.  t<tspan dy="3" font-size="9.8">rr</tspan><tspan dy="-3">, t</tspan><tspan dy="3" font-size="9.8">a</tspan><tspan dy="-3"> AND t</tspan><tspan dy="3" font-size="9.8">b</tspan><tspan dy="-3"> CURVES vs FORWARD CURRENT</tspan></text>
<text x="72" y="679.1" font-size="10.8" font-weight="bold">FIGURE 5.  t<tspan dy="3" font-size="9.8">rr</tspan><tspan dy="-3">, t</tspan><tspan dy="3" font-size="9.8">a</tspan><tspan dy="-3"> AND t</tspan><tspan dy="3" font-size="9.8">b</tspan><tspan dy="-3"> CURVES vs FORWARD CURRENT</tspan></text>
<text x="493" y="679.8" font-size="10.8" font-weight="bold">FIGURE 6.  CURRENT DERATING CURVE</text>
<text x="253.6" y="972.8" font-size="10.8" font-weight="bold">FIGURE 7.  JUNCTION CAPACITANCE vs REVERSE VOLTAGE</text>
<line x1="57.40" y1="1014.40" x2="764.60" y2="1014.40" stroke="#6a6a6a" stroke-width="1.2"/>
<text x="65.00" y="1030.60" font-size="9.6" font-weight="normal" text-anchor="start" >©2001 Fairchild Semiconductor Corporation</text>
<text x="65.00" y="1040.80" font-size="9.6" font-weight="normal" text-anchor="start" >RHR8120 Rev. B</text>
<text x="423.60" y="1032.90" font-size="9.45" font-weight="bold" text-anchor="middle" >3</text>
<text x="757.00" y="1030.00" font-size="9.6" font-weight="normal" text-anchor="end" >www.fairchildsemi.com</text>
</svg>
</body></html>
